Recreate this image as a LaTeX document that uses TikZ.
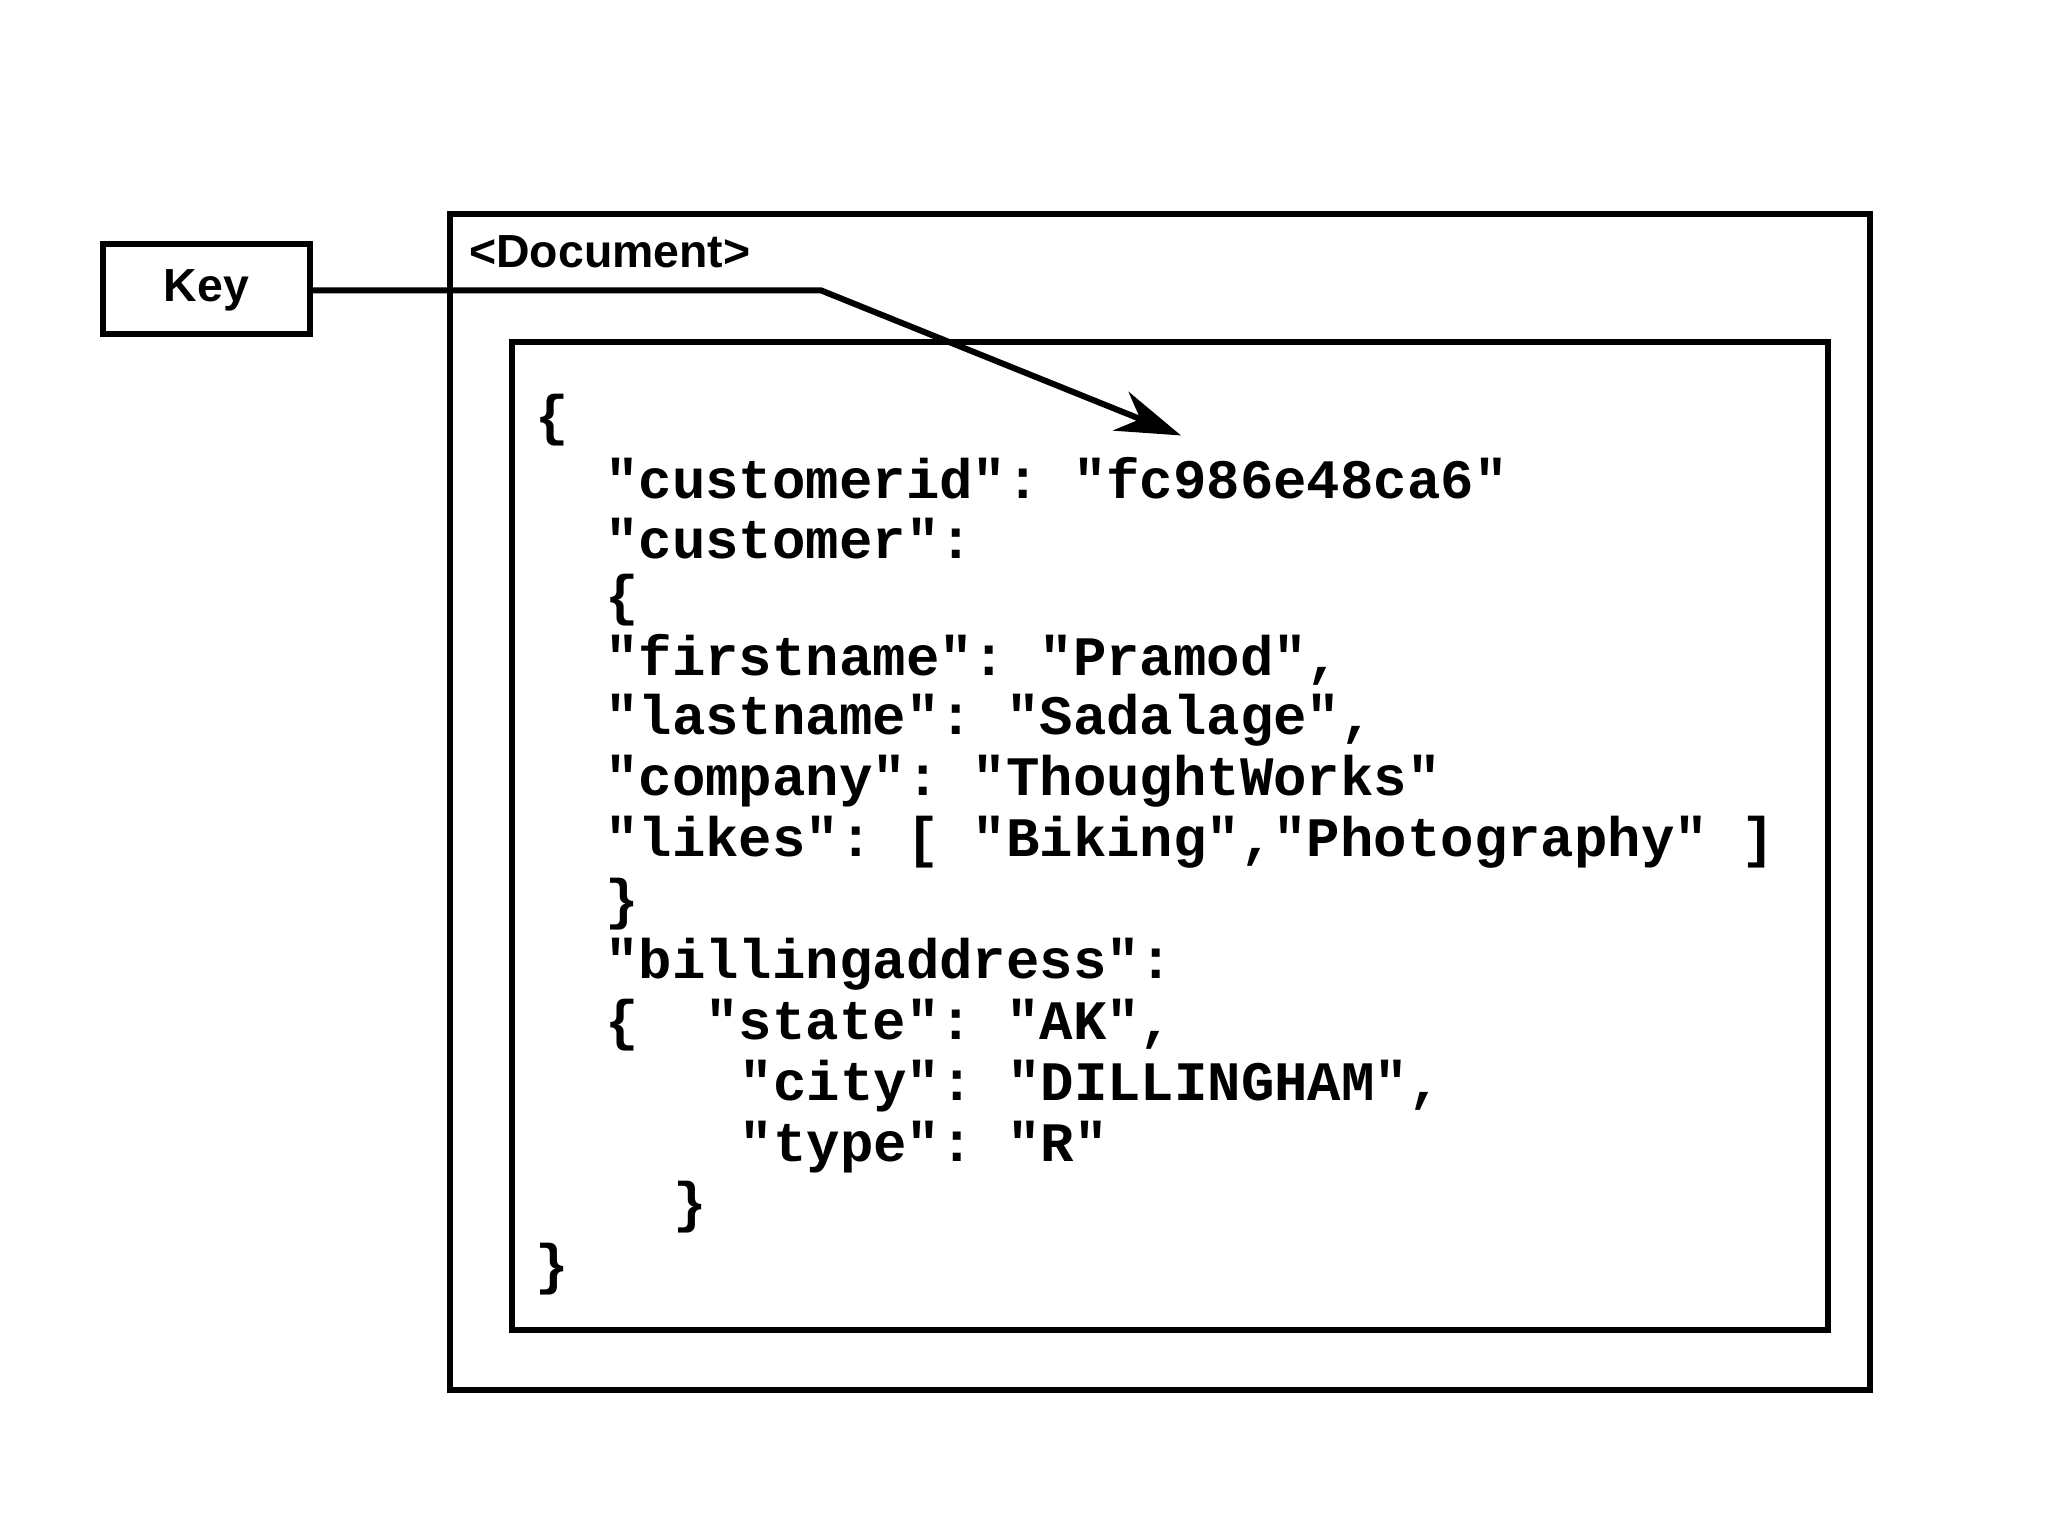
\documentclass[tikz,border=0pt]{standalone}
\usepackage{fontspec}
\setmainfont{Liberation Sans}
\setsansfont{Liberation Sans}
\setmonofont{Liberation Mono}
\usetikzlibrary{arrows.meta}
\begin{document}
\begin{tikzpicture}[x=0.01cm,y=-0.01cm,
  box/.style={draw,line width=1.3pt},
  code/.style={anchor=west,inner sep=0pt,font=\fontsize{12}{13}\ttfamily\bfseries},
  lbl/.style={anchor=west,inner sep=0pt,font=\fontsize{10}{12}\sffamily\bfseries}]
\useasboundingbox (0,0) rectangle (1552,1164);
\draw[box] (78,185) rectangle (235,253);
\node[inner sep=0pt,font=\fontsize{10}{12}\sffamily\bfseries] (key) at (156.5,220) {Key};
\coordinate (keyr) at (235,220);
\draw[box] (341,162) rectangle (1417,1053);
\node[lbl] (doc) at (355,191) {<Document>};
\draw[box] (388,259) rectangle (1385,1008);
\coordinate (bend) at (622,220);
\coordinate (tip) at (895,330);
\draw[line width=1.3pt,-{Stealth[length=14pt,width=9pt]}] (keyr) -- (bend) -- (tip);
\node[code] (l1) at (405,318) {\{};
\node[code] (l2) at (458,362) {"customerid": "fc986e48ca6"};
\node[code] (l3) at (458,408) {"customer":};
\node[code] (l4) at (458,455) {\{};
\node[code] (l5) at (458,500) {"firstname": "Pramod",};
\node[code] (l6) at (458,546) {"lastname": "Sadalage",};
\node[code] (l7) at (458,592) {"company": "ThoughtWorks"};
\node[code] (l8) at (458,638) {"likes": [ "Biking","Photography" ]};
\node[code] (l9) at (458,685) {\}};
\node[code] (l10) at (458,731) {"billingaddress":};
\node[code] (l11) at (458,777) {\{\ \ "state": "AK",};
\node[code] (l12) at (560,823) {"city": "DILLINGHAM",};
\node[code] (l13) at (560,869) {"type": "R"};
\node[code] (l14) at (510,915) {\}};
\node[code] (l15) at (405,962) {\}};
\end{tikzpicture}
\end{document}
